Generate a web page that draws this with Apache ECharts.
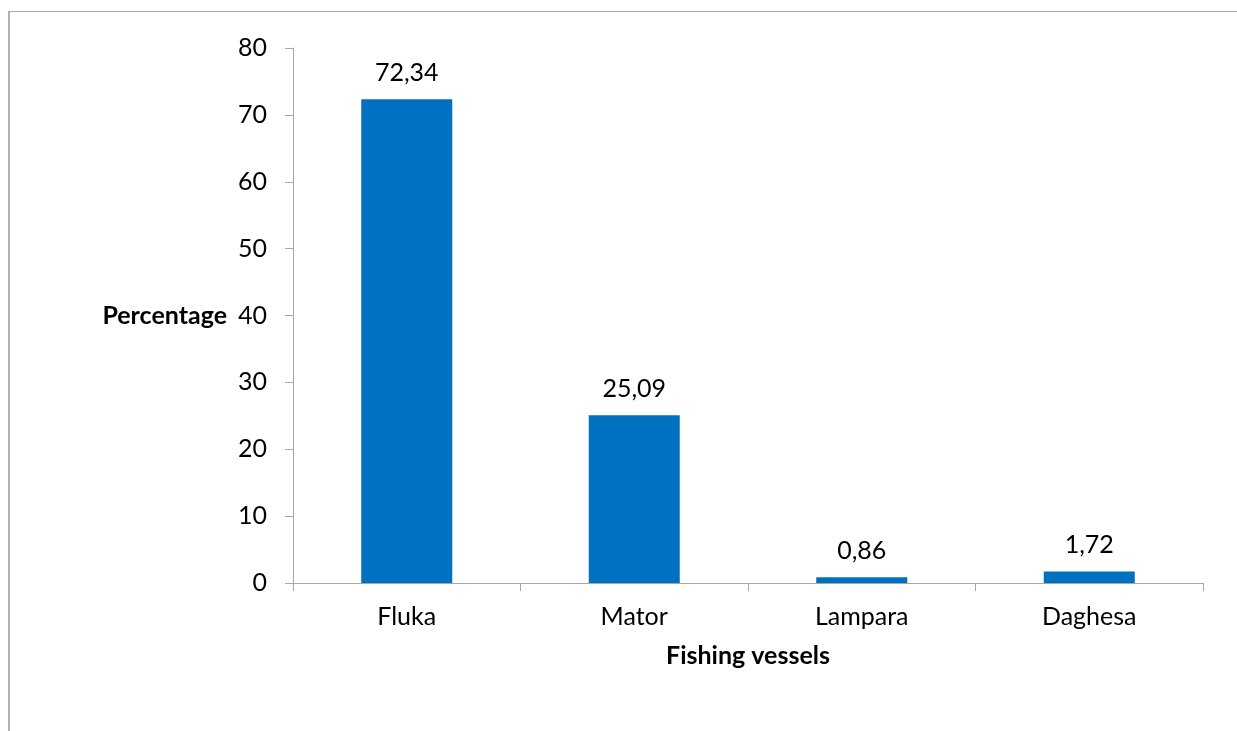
<!DOCTYPE html>
<html>
<head>
<meta charset="utf-8">
<script src="https://cdn.jsdelivr.net/npm/echarts@6/dist/echarts.min.js"></script>
<style>
  html, body { margin: 0; padding: 0; background: #fff; }
  #frame { position: absolute; left: 8px; top: 11px; right: 0; bottom: 0; border-left: 2px solid #b0b0b0; border-top: 1px solid #a6a6a6; }
  #chart { position: absolute; left: 0; top: 0; width: 1237px; height: 731px; }
</style>
</head>
<body>
<div id="frame"></div>
<div id="chart"></div>
<script>
const vessels = ['Fluka', 'Mator', 'Lampara', 'Daghesa']
const percentages = [72.34, 25.09, 0.86, 1.72]
const yTicks = { min: 0, max: 80, interval: 10 }

// Lato is the closest installed face to Calibri
const font = 'Lato, "Open Sans", sans-serif'
const fontSize = 25
const axisGray = '#a6a6a6'

const chart = echarts.init(document.getElementById('chart'))
chart.setOption({
  animation: false,
  grid: {
    left: 293,
    right: 34,
    top: 48,
    bottom: 148
  },
  xAxis: {
    type: 'category',
    data: vessels,
    name: 'Fishing vessels',
    nameLocation: 'middle',
    nameGap: 60,
    nameTextStyle: { fontFamily: font, fontSize: fontSize, fontWeight: 'bold', color: '#000' },
    axisLine: { lineStyle: { color: axisGray, width: 1 } },
    axisTick: { show: true, length: 8, lineStyle: { color: axisGray } },
    axisLabel: { margin: 21, fontFamily: font, fontSize: fontSize, color: '#000' }
  },
  yAxis: {
    type: 'value',
    min: yTicks.min,
    max: yTicks.max,
    interval: yTicks.interval,
    name: 'Percentage',
    nameLocation: 'middle',
    nameRotate: 0,
    nameGap: 66,
    nameTextStyle: { fontFamily: font, fontSize: fontSize, fontWeight: 'bold', color: '#000' },
    axisLine: { show: true, lineStyle: { color: axisGray, width: 1 } },
    axisTick: { show: true, length: 8, lineStyle: { color: axisGray } },
    axisLabel: { margin: 26, fontFamily: font, fontSize: fontSize, color: '#000' },
    splitLine: { show: false }
  },
  series: [
    {
      type: 'bar',
      data: percentages,
      barWidth: '40%',
      itemStyle: { color: '#0070c0' },
      label: {
        show: true,
        position: 'top',
        distance: 14,
        fontFamily: font,
        fontSize: fontSize,
        color: '#000',
        formatter: p => p.value.toFixed(2).replace('.', ',')
      }
    }
  ]
})
</script>
</body>
</html>
